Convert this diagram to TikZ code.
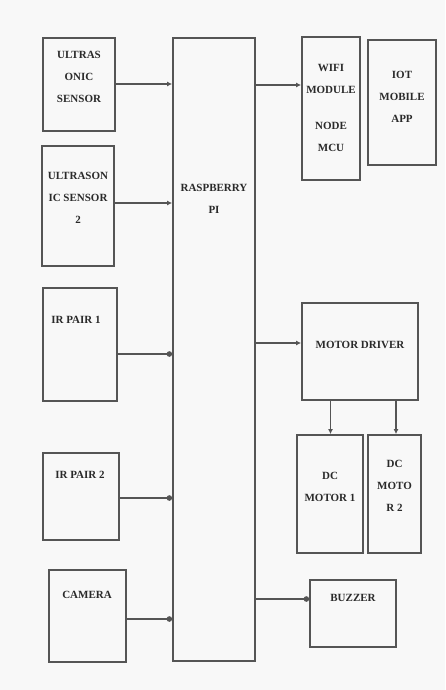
\documentclass[tikz,border=0pt]{standalone}
\usepackage{fontspec}
\setmainfont{Liberation Serif}
\usetikzlibrary{arrows.meta}
\definecolor{bg}{HTML}{F8F8F8}
\definecolor{ln}{HTML}{555555}
\definecolor{tx}{HTML}{2A2A2A}
\tikzset{
  box/.style={draw=ln, line width=1.8pt, rectangle, inner sep=0pt},
  lbl/.style={text=tx, font=\bfseries\fontsize{11}{22}\selectfont, align=center, inner sep=0pt},
  conn/.style={draw=ln, line width=1.4pt},
  tiparrow/.style={-{Latex[length=5pt,width=5pt]}},
  tipdot/.style={-{Circle[length=5.5pt]}}
}
\begin{document}
\begin{tikzpicture}[x=1pt,y=-1pt]
\fill[bg] (0,0) rectangle (445,690);
\useasboundingbox (0,0) rectangle (445,690);
% boxes
\node[box, minimum width=72pt, minimum height=93pt] (us1) at (79,84.5) {};
\node[box, minimum width=72pt, minimum height=120pt] (us2) at (78,206) {};
\node[box, minimum width=82pt, minimum height=623pt] (pi) at (214,349.5) {};
\node[box, minimum width=58pt, minimum height=143pt] (wifi) at (331,108.5) {};
\node[box, minimum width=68pt, minimum height=125pt] (iot) at (402,102.5) {};
\node[box, minimum width=116pt, minimum height=97pt] (md) at (360,351.5) {};
\node[box, minimum width=66pt, minimum height=118pt] (dc1) at (330,494) {};
\node[box, minimum width=53pt, minimum height=118pt] (dc2) at (394.5,494) {};
\node[box, minimum width=74pt, minimum height=113pt] (ir1) at (80,344.5) {};
\node[box, minimum width=76pt, minimum height=87pt] (ir2) at (81,496.5) {};
\node[box, minimum width=77pt, minimum height=92pt] (cam) at (87.5,616) {};
\node[box, minimum width=86pt, minimum height=67pt] (buz) at (353,613.5) {};
% labels
\node[lbl] (us1t) at (79,77) {ULTRAS\\ONIC\\SENSOR};
\node[lbl] (us2t) at (78,198) {ULTRASON\\IC SENSOR\\2};
\node[lbl] (pit) at (214,199) {RASPBERRY\\PI};
\node[lbl] (wifit) at (331,108) {WIFI\\MODULE\\[14pt]NODE\\MCU};
\node[lbl] (iott) at (402,97) {IOT\\MOBILE\\APP};
\node[lbl] (mdt) at (360,345) {MOTOR DRIVER};
\node[lbl] (dc1t) at (330,487) {DC\\MOTOR 1};
\node[lbl] (dc2t) at (394.5,486) {DC\\MOTO\\R 2};
\node[lbl] (ir1t) at (76,320) {IR PAIR 1};
\node[lbl] (ir2t) at (80,475) {IR PAIR 2};
\node[lbl] (camt) at (87,595) {CAMERA};
\node[lbl] (buzt) at (353,598) {BUZZER};
% connectors
\draw[conn, tiparrow] ([yshift=0.5pt]us1.east) -- ([yshift=0.5pt]us1.east -| pi.west);
\draw[conn, tiparrow] ([yshift=3pt]us2.east) -- ([yshift=3pt]us2.east -| pi.west);
\draw[conn, tipdot] ([yshift=-9.5pt]ir1.east) -- ([yshift=-9.5pt]ir1.east -| pi.west);
\draw[conn, tipdot] ([yshift=-1.5pt]ir2.east) -- ([yshift=-1.5pt]ir2.east -| pi.west);
\draw[conn, tipdot] ([yshift=-3pt]cam.east) -- ([yshift=-3pt]cam.east -| pi.west);
\draw[conn, tiparrow] ([yshift=23.5pt]wifi.west -| pi.east) -- ([yshift=23.5pt]wifi.west);
\draw[conn, tiparrow] ([yshift=8.5pt]md.west -| pi.east) -- ([yshift=8.5pt]md.west);
\draw[conn, tipdot] ([yshift=14.5pt]buz.west -| pi.east) -- ([yshift=14.5pt]buz.west);
\draw[conn, tiparrow] ([xshift=0.5pt]md.south -| dc1.north) -- ([xshift=0.5pt]dc1.north);
\draw[conn, tiparrow] ([xshift=1.5pt]md.south -| dc2.north) -- ([xshift=1.5pt]dc2.north);
\end{tikzpicture}
\end{document}
